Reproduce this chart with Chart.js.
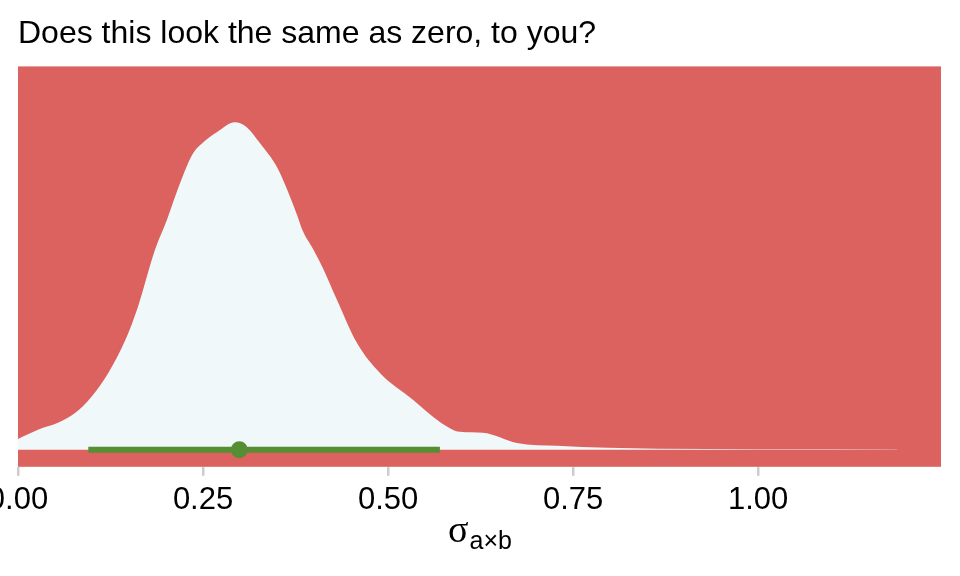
<!DOCTYPE html>
<html>
<head>
<meta charset="utf-8">
<script src="https://cdn.jsdelivr.net/npm/chart.js@4/dist/chart.umd.min.js"></script>
<style>
html,body{margin:0;padding:0;background:#fff;}
canvas{display:block;}
</style>
</head>
<body>
<canvas id="c" width="960" height="576"></canvas>
<script>
// ---- data ----
const densityX = [0.0, 0.027, 0.054, 0.077, 0.099, 0.122, 0.145, 0.162, 0.185, 0.201, 0.219, 0.236, 0.25, 0.269, 0.293, 0.309, 0.327, 0.35, 0.364, 0.377, 0.385, 0.399, 0.412, 0.431, 0.458, 0.489, 0.534, 0.570, 0.597, 0.628, 0.674, 0.728, 0.796, 0.864, 1.0, 1.188];
const densityY = [0.033, 0.061, 0.082, 0.112, 0.161, 0.234, 0.334, 0.435, 0.608, 0.699, 0.812, 0.900, 0.935, 0.967, 0.997, 0.982, 0.933, 0.860, 0.790, 0.715, 0.665, 0.610, 0.553, 0.456, 0.325, 0.234, 0.152, 0.085, 0.055, 0.052, 0.021, 0.012, 0.006, 0.003, 0.0015, 0.001];
const intervalX = [0.095, 0.570];
const pointEstimate = 0.299;
const xTicks = [0, 0.25, 0.5, 0.75, 1.0];
const titleText = "Does this look the same as zero, to you?";
const axisSymbol = "σ";
const axisSub = "a×b";

const RED = "#DC625F";
const FILL = "#F0F8FA";
const GREEN = "#568E34";

const panelBg = {
  id: 'panelBg',
  beforeDraw(chart) {
    const a = chart.chartArea, ctx = chart.ctx;
    ctx.save();
    ctx.fillStyle = RED;
    ctx.fillRect(a.left, a.top, a.right - a.left, a.bottom - a.top);
    ctx.restore();
  }
};

const axisLabel = {
  id: 'axisLabel',
  afterDraw(chart) {
    const ctx = chart.ctx;
    const a = chart.chartArea;
    ctx.save();
    ctx.fillStyle = "#000";
    ctx.textBaseline = "alphabetic";
    ctx.font = "38px 'Liberation Serif'";
    const w1 = ctx.measureText(axisSymbol).width;
    ctx.font = "25px 'Liberation Sans'";
    const w2 = ctx.measureText(axisSub).width;
    const cx = (a.left + a.right) / 2;
    const x0 = cx - (w1 + w2) / 2;
    ctx.font = "38px 'Liberation Serif'";
    ctx.fillText(axisSymbol, x0, 542);
    ctx.font = "25px 'Liberation Sans'";
    ctx.fillText(axisSub, x0 + w1 + 1, 549);
    ctx.restore();
  }
};

new Chart(document.getElementById('c'), {
  type: 'line',
  data: {
    datasets: [
      {
        label: 'interval',
        data: intervalX.map(x => ({x: x, y: 0})),
        borderColor: GREEN,
        borderWidth: 6,
        pointRadius: 0,
        fill: false,
        order: 1
      },
      {
        label: 'point',
        data: [{x: pointEstimate, y: 0}],
        showLine: false,
        pointRadius: 8.5,
        pointBackgroundColor: GREEN,
        pointBorderWidth: 0,
        order: 0
      },
      {
        label: 'density',
        data: densityX.map((x, i) => ({x: x, y: densityY[i]})),
        borderWidth: 0,
        borderColor: FILL,
        backgroundColor: FILL,
        fill: 'origin',
        pointRadius: 0,
        cubicInterpolationMode: 'monotone',
        order: 2
      }
    ]
  },
  options: {
    responsive: false,
    animation: false,
    devicePixelRatio: 1,
    layout: { padding: { left: 18, right: 19, top: 0, bottom: 51 } },
    plugins: {
      legend: { display: false },
      tooltip: { enabled: false },
      title: {
        display: true,
        text: titleText,
        align: 'start',
        color: '#000',
        font: { family: "'Liberation Sans'", size: 32, weight: 'normal' },
        padding: { top: 15, bottom: 13 }
      }
    },
    scales: {
      x: {
        type: 'linear',
        min: 0,
        max: 1.247,
        afterBuildTicks(scale) { scale.ticks = xTicks.map(v => ({value: v})); },
        afterFit(scale) { scale.paddingLeft = 0; scale.paddingRight = 0; },
        ticks: {
          color: '#000',
          padding: 6,
          maxRotation: 0,
          font: { family: "'Liberation Sans'", size: 31 },
          callback: v => Number(v).toFixed(2)
        },
        grid: { drawOnChartArea: false, drawTicks: true, tickLength: 9, color: '#CCCCCC', lineWidth: 2.5 },
        border: { display: false }
      },
      y: {
        display: false,
        min: -0.0517,
        max: 1.167
      }
    }
  },
  plugins: [panelBg, axisLabel]
});
</script>
</body>
</html>
